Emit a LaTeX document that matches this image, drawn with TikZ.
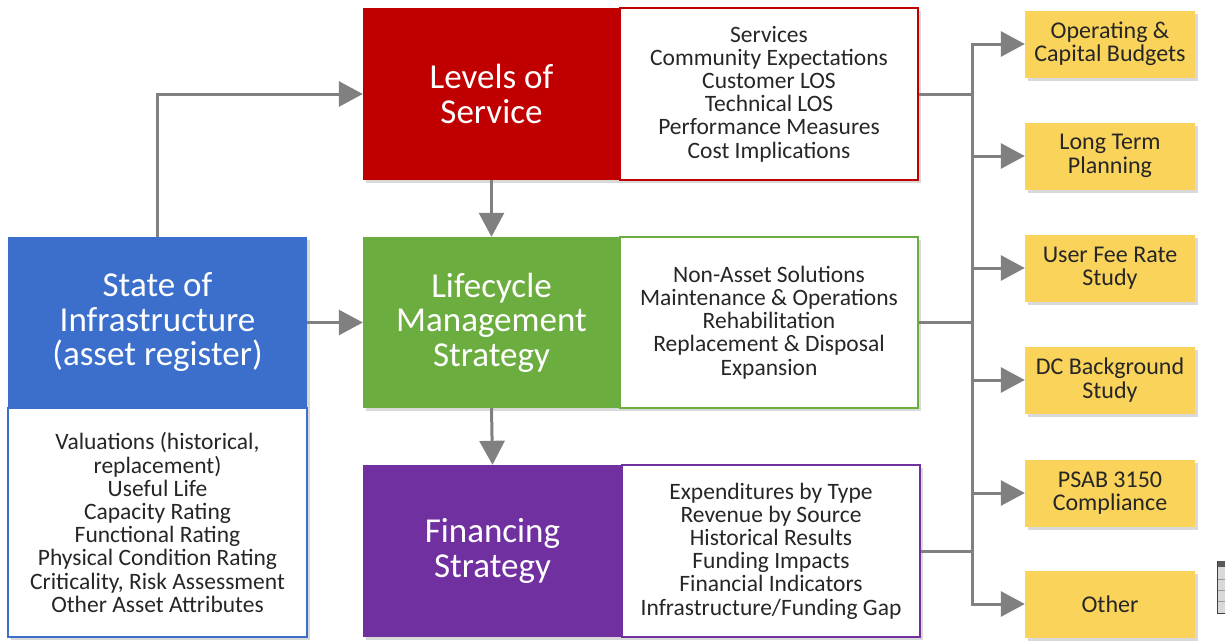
\documentclass[tikz,border=0pt]{standalone}
\usepackage{fontspec}
\setmainfont{Carlito}
\usetikzlibrary{arrows.meta,shadows}
\definecolor{cblue}{HTML}{3B6FCB}
\definecolor{cred}{HTML}{C00000}
\definecolor{cgreen}{HTML}{6CAD40}
\definecolor{cpurple}{HTML}{7030A0}
\definecolor{cyellow}{HTML}{F9D35A}
\definecolor{cgray}{HTML}{808080}
\definecolor{ctext}{HTML}{262626}
\tikzset{
  shad/.style={drop shadow={shadow xshift=3pt,shadow yshift=-3pt,opacity=0.25,fill=black!60}},
  titlebox/.style={shad,rectangle,inner sep=0pt,text=white,align=center,
     font=\fontsize{35}{34.5}\selectfont},
  listbox/.style={shad,rectangle,inner sep=0pt,fill=white,line width=1.6pt,text=ctext,align=center,
     font=\fontsize{23.5}{23.2}\selectfont},
  outbox/.style={shad,rectangle,inner sep=0pt,fill=cyellow,text=ctext,align=center,
     minimum width=170pt,minimum height=67pt,font=\fontsize{24}{23.5}\selectfont},
  conn/.style={draw=cgray,line width=3pt,-{Triangle[length=24pt,width=25pt]}},
  plain/.style={draw=cgray,line width=3pt},
}
\begin{document}
\begin{tikzpicture}[x=1pt,y=-1pt]
\useasboundingbox (0,0) rectangle (1225,640);
% State of infrastructure
\node[titlebox,fill=cblue,minimum width=299pt,minimum height=171pt] (soi) at (157.5,322.5)
  {State of\\Infrastructure\\(asset register)};
\node[listbox,draw=cblue,minimum width=299pt,minimum height=229pt] (soilist) at (157.5,522.5)
  {Valuations (historical,\\replacement)\\Useful Life\\Capacity Rating\\Functional Rating\\Physical Condition Rating\\Criticality, Risk Assessment\\Other Asset Attributes};
% Levels of service
\node[titlebox,fill=cred,minimum width=257pt,minimum height=172pt] (los) at (491.5,94)
  {Levels of\\Service};
\node[listbox,draw=cred,minimum width=298pt,minimum height=172pt] (loslist) at (769,94)
  {Services\\Community Expectations\\Customer LOS\\Technical LOS\\Performance Measures\\Cost Implications};
% Lifecycle
\node[titlebox,fill=cgreen,minimum width=257pt,minimum height=171pt] (lms) at (491.5,322.5)
  {Lifecycle\\Management\\Strategy};
\node[listbox,draw=cgreen,minimum width=298pt,minimum height=171pt] (lmslist) at (769,322.5)
  {Non-Asset Solutions\\Maintenance \& Operations\\Rehabilitation\\Replacement \& Disposal\\Expansion};
% Financing
\node[titlebox,fill=cpurple,minimum width=259pt,minimum height=172pt] (fin) at (492.5,551)
  {Financing\\Strategy};
\node[listbox,draw=cpurple,minimum width=298pt,minimum height=172pt] (finlist) at (771,551)
  {Expenditures by Type\\Revenue by Source\\Historical Results\\Funding Impacts\\Financial Indicators\\Infrastructure/Funding Gap};
% outputs
\node[outbox] (y1) at (1110,44) {Operating \&\\Capital Budgets};
\node[outbox] (y2) at (1110,156) {Long Term\\Planning};
\node[outbox] (y3) at (1110,268) {User Fee Rate\\Study};
\node[outbox] (y4) at (1110,380) {DC Background\\Study};
\node[outbox] (y5) at (1110,493) {PSAB 3150\\Compliance};
\node[outbox] (y6) at (1110,604) {Other};
% connectors
\draw[conn] (soi.north) |- (los.west);
\draw[conn] (soi.east) -- (lms.west);
\draw[conn] (los.south) -- (lms.north);
\draw[conn] (lms.south) -- (fin.north);
\coordinate (bus) at (972,0);
\draw[plain] (loslist.east) -- (loslist.east -| bus);
\draw[plain] (lmslist.east) -- (lmslist.east -| bus);
\draw[plain] (finlist.east) -- (finlist.east -| bus);
\draw[conn] (y6.west -| bus) -- (y1.west -| bus) -- (y1.west);
\draw[conn] (y1.west -| bus) -- (y6.west -| bus) -- (y6.west);
\draw[conn] (y2.west -| bus) -- (y2.west);
\draw[conn] (y3.west -| bus) -- (y3.west);
\draw[conn] (y4.west -| bus) -- (y4.west);
\draw[conn] (y5.west -| bus) -- (y5.west);
% cropped fragment at right edge
\fill[black!15] (1217,561) rectangle (1225,613);
\fill[black!65] (1217,561) rectangle (1225,567);
\draw[black!40,line width=0.6pt] (1217,579) -- (1225,579) (1217,590) -- (1225,590) (1217,601) -- (1225,601);
\draw[black!75,line width=1pt] (1217,561) -- (1217,613) -- (1225,613);
\end{tikzpicture}
\end{document}
